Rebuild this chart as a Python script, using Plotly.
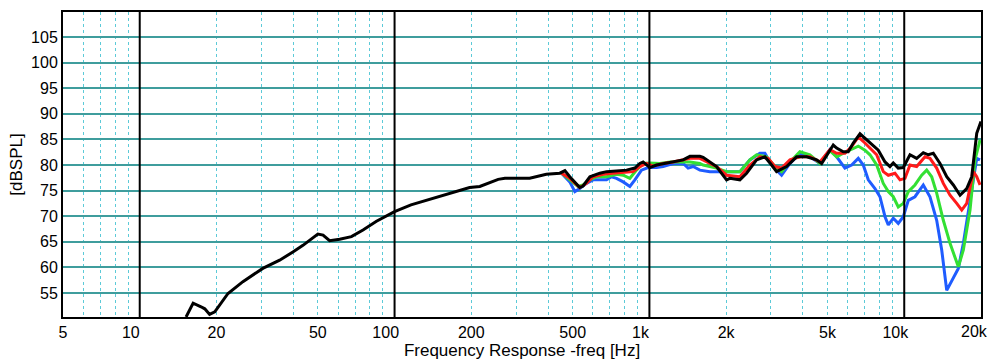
import plotly.graph_objects as go

# ---------------- data ----------------
black_f = [15.2, 16.2, 17.4, 18.0, 18.8, 19.7, 22.2, 25.4, 30.4, 35.4, 39.9, 43.7, 50.0, 52.4,
           55.6, 60.9, 67.7, 75.2, 84.9, 95.7, 100, 116, 150, 197, 216, 255, 271, 339, 394,
           445, 466, 487, 533, 549, 584, 639, 679, 743, 813, 877, 917, 945, 1004, 1067, 1149,
           1239, 1357, 1442, 1578, 1625, 1834, 2008, 2070, 2265, 2406, 2633, 2839, 3016, 3155,
           3455, 3781, 4139, 4530, 4740, 5031, 5265, 5430, 5763, 6030, 6309, 6704, 7121, 7451,
           7910, 8404, 8790, 9056, 9474, 9914, 10532, 11187, 11878, 12427, 13002, 13816, 14679,
           15584, 16555, 17587, 18400, 19250, 20000]
black_db = [50.3, 53.0, 52.3, 51.9, 50.8, 51.3, 54.9, 57.2, 59.8, 61.4, 63.0, 64.3, 66.5, 66.3,
            65.2, 65.5, 66.0, 67.3, 69.0, 70.4, 70.9, 72.2, 73.8, 75.6, 75.8, 77.2, 77.4, 77.4, 78.2,
            78.4, 78.9, 77.7, 75.6, 75.9, 77.7, 78.4, 78.7, 78.9, 79.0, 79.4, 80.3, 80.6, 79.5, 80.0, 80.3,
            80.5, 81.0, 81.7, 81.7, 81.5, 79.7, 77.1, 77.4, 77.1, 78.4, 81.0, 81.6, 80.0, 78.7,
            79.7, 81.6, 81.6, 81.0, 80.3, 82.3, 83.9, 83.3, 82.6, 82.6, 84.3, 86.1, 84.9, 83.9,
            82.9, 80.6, 79.7, 80.4, 79.4, 79.5, 82.0, 81.3, 82.4, 82.0, 82.3, 80.3, 77.7,
            76.1, 74.1, 75.4, 77.7, 86.2, 88.5]

red_f = [452, 487, 533, 566, 601, 658, 720, 789, 863, 917, 975, 1034, 1132, 1239, 1357, 1442,
         1578, 1625, 1834, 2008, 2265, 2479, 2714, 2925, 3108, 3302, 3560, 3895, 4264, 4668,
         5109, 5430, 5852, 6217, 6601, 7012, 7337, 7795, 8275, 8657, 9196, 9620, 10067, 10532,
         11187, 12063, 12617, 13407, 14235, 15126, 16068, 16812, 17587, 18669, 19250, 19836]
red_db = [78.4, 77.4, 75.6, 76.4, 77.7, 78.2, 78.4, 78.5, 78.7, 79.7, 80.3, 79.8, 80.3, 80.6, 81.0, 81.3,
          81.3, 81.0, 79.7, 78.0, 77.7, 80.0, 81.6, 81.3, 79.7, 79.4, 81.0, 81.6, 81.6, 80.6,
          83.0, 82.3, 82.3, 83.6, 85.5, 84.3, 83.3, 82.0, 78.7, 78.0, 78.4, 77.1, 77.4, 80.0,
          79.7, 81.6, 81.3, 79.4, 76.4, 74.1, 72.5, 71.2, 72.5, 78.7, 77.7, 76.1]

green_f = [452, 487, 525, 549, 584, 620, 679, 743, 789, 838, 890, 945, 1004, 1099, 1203, 1317,
           1442, 1578, 1625, 1834, 2008, 2265, 2479, 2633, 2883, 3108, 3302, 3560, 3895, 4264,
           4668, 5109, 5430, 5763, 6121, 6601, 7012, 7337, 7795, 8275, 8657, 9056, 9474, 9914,
           10374, 11016, 11707, 12247, 12813, 13407, 14235, 15126, 16303, 17059, 18120, 18956, 19836]
green_db = [78.4, 77.1, 75.8, 76.1, 77.1, 77.7, 77.7, 78.2, 78.0, 77.4, 79.0, 80.3, 80.4, 80.3, 80.6, 80.6,
            80.6, 80.3, 80.0, 79.4, 78.7, 78.7, 81.0, 82.0, 81.6, 79.7, 78.7, 80.6, 82.6, 82.0,
            80.3, 82.8, 81.6, 82.3, 82.9, 83.7, 82.9, 82.0, 80.0, 76.4, 74.8, 73.8, 71.8, 72.5,
            74.8, 76.1, 78.0, 79.0, 77.7, 74.5, 69.2, 64.7, 60.1, 63.4, 71.2, 81.0, 84.9]

blue_f = [452, 487, 510, 533, 566, 601, 639, 679, 710, 743, 789, 838, 877, 931, 989, 1067, 1132,
          1239, 1357, 1419, 1485, 1578, 1727, 1947, 2265, 2479, 2714, 2839, 2971, 3155, 3302,
          3560, 3895, 4264, 4668, 5109, 5430, 5852, 6217, 6601, 6905, 7226, 7675, 8030, 8404,
          8657, 9056, 9474, 9914, 10374, 11016, 11878, 12617, 13407, 14030, 14679, 15360, 16303,
          17059, 18120, 19250, 19836]
blue_db = [78.4, 76.7, 74.8, 75.4, 76.4, 77.1, 77.1, 77.1, 77.7, 77.4, 76.7, 75.8, 77.1, 79.0, 79.5, 79.5, 79.7,
           80.3, 80.3, 79.4, 79.7, 79.0, 78.7, 78.7, 78.7, 81.0, 82.3, 82.3, 80.6, 79.0, 78.0,
           80.3, 82.3, 81.6, 80.3, 83.0, 81.6, 79.4, 80.0, 81.3, 80.0, 77.1, 75.4, 73.8, 69.9,
           68.3, 69.6, 68.6, 69.9, 73.1, 73.8, 76.1, 73.8, 69.2, 63.4, 55.5, 57.5, 59.8,
           64.7, 73.1, 81.3, 81.0]

x_grid = [5, 6, 7, 8, 9, 10, 20, 30, 40, 50, 60, 70, 80, 90, 100, 200, 300, 400, 500, 600, 700,
          800, 900, 1000, 2000, 3000, 4000, 5000, 6000, 7000, 8000, 9000, 10000, 20000]
x_labels = {5: "5", 10: "10", 20: "20", 50: "50", 100: "100", 200: "200", 500: "500",
            1000: "1k", 2000: "2k", 5000: "5k", 10000: "10k"}
end_label = "20k"
decades = [10, 100, 1000, 10000]
y_ticks = [55, 60, 65, 70, 75, 80, 85, 90, 95, 100, 105]

# ---------------- figure ----------------
NB = "\u00a0"
def label(v):
    t = x_labels.get(v, "")
    if v in decades:
        t = t + NB * 4
    return t

fig = go.Figure()
series = [("blue", blue_f, blue_db, "#1f5cff"),
          ("green", green_f, green_db, "#33e033"),
          ("red", red_f, red_db, "#ff1a1a"),
          ("black", black_f, black_db, "#000000")]
for name, f, db, col in series:
    fig.add_trace(go.Scatter(x=f, y=db, mode="lines", name=name,
                             line=dict(color=col, width=3), showlegend=False))

for d in decades:
    fig.add_shape(type="line", xref="x", yref="paper", x0=d, x1=d, y0=0, y1=1,
                  line=dict(color="black", width=2, dash="solid"), layer="above")

font = "Arial, Liberation Sans, sans-serif"

# last x tick label, kept inside the page like the reference
fig.add_annotation(text=end_label, xref="paper", yref="paper", x=1, y=0,
                   xanchor="right", yanchor="top", xshift=9, yshift=-4,
                   showarrow=False, font=dict(size=16, family=font, color="black"))

fig.update_layout(
    width=993, height=360,
    margin=dict(l=63, r=12, t=12, b=43),
    paper_bgcolor="white", plot_bgcolor="white",
    font=dict(family=font, color="black", size=16),
    xaxis=dict(type="log", range=[0.6989, 4.3012], automargin=False,
               tickvals=x_grid, ticktext=[label(v) for v in x_grid],
               tickfont=dict(size=16), ticks="", ticklabeloverflow="allow",
               showgrid=True, gridcolor="#5ccad8", griddash="dot", gridwidth=1,
               showline=True, linecolor="black", linewidth=2, mirror=True,
               zeroline=False,
               title=dict(text="Frequency Response -freq [Hz]", font=dict(size=17), standoff=2)),
    yaxis=dict(range=[50.3, 109.9], tickvals=y_ticks, ticks="", automargin=False,
               tickfont=dict(size=16),
               showgrid=True, gridcolor="#3f9d9d", gridwidth=1.5,
               showline=True, linecolor="black", linewidth=2, mirror=True,
               zeroline=False,
               title=dict(text="[dBSPL]", font=dict(size=17), standoff=4)),
)

fig.write_html("out.html", config={"displayModeBar": False},
               post_script="document.body.style.margin='0';document.body.style.overflow='hidden';")
